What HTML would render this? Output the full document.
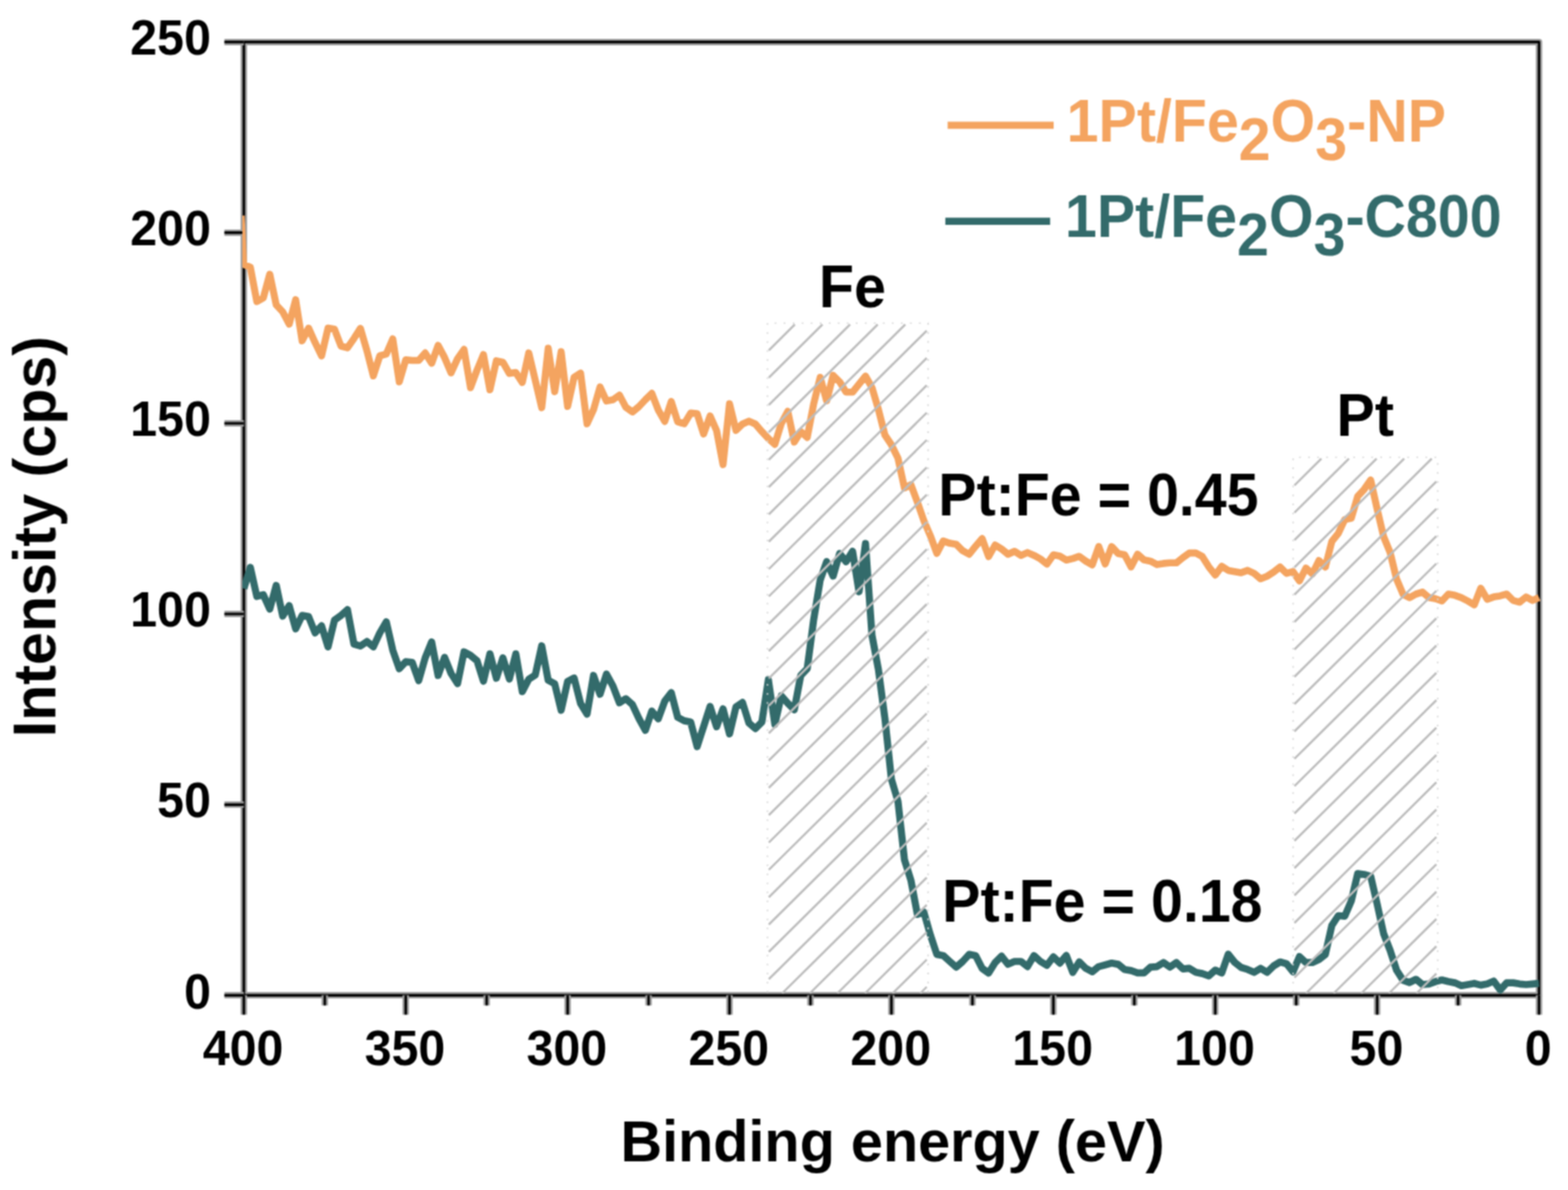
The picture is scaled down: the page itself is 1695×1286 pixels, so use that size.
<!DOCTYPE html>
<html lang="en"><head><meta charset="utf-8"><title>XPS survey spectra</title>
<style>html,body{margin:0;padding:0;background:#fff}body{width:1695px;height:1286px;overflow:hidden}svg{display:block}</style>
</head><body>
<svg width="1695" height="1286" viewBox="0 0 1695 1286" role="img" aria-label="XPS survey spectra of 1Pt/Fe2O3-NP and 1Pt/Fe2O3-C800">
<defs><clipPath id="plot"><rect x="262.0" y="0" width="1403.9" height="1286"/></clipPath>
<filter id="soft" filterUnits="userSpaceOnUse" x="0" y="0" width="1695" height="1286" color-interpolation-filters="sRGB"><feConvolveMatrix order="3" kernelMatrix="1 2 1 2 4 2 1 2 1" divisor="16" edgeMode="duplicate" preserveAlpha="false"/></filter>
</defs>
<rect width="1695" height="1286" fill="#fff"/>
<g filter="url(#soft)">
<rect x="263.6" y="45.4" width="1400.1" height="1030.2" fill="none" stroke="#9c9c9c" stroke-width="7.0" stroke-linejoin="round"/>
<rect x="263.6" y="45.4" width="1400.1" height="1030.2" fill="none" stroke="#000" stroke-width="2.6" stroke-linejoin="round"/>
<path d="M242.6,1075.6H263.6M242.6,869.6H263.6M242.6,663.5H263.6M242.6,457.5H263.6M242.6,251.4H263.6M242.6,45.4H263.6M1663.7,1075.6V1096.6M1576.2,1075.6V1086.6M1488.7,1075.6V1096.6M1401.2,1075.6V1086.6M1313.7,1075.6V1096.6M1226.2,1075.6V1086.6M1138.7,1075.6V1096.6M1051.2,1075.6V1086.6M963.6,1075.6V1096.6M876.1,1075.6V1086.6M788.6,1075.6V1096.6M701.1,1075.6V1086.6M613.6,1075.6V1096.6M526.1,1075.6V1086.6M438.6,1075.6V1096.6M351.1,1075.6V1086.6M263.6,1075.6V1096.6" stroke="#9c9c9c" stroke-width="7.0" fill="none"/>
<path d="M242.6,1075.6H263.6M242.6,869.6H263.6M242.6,663.5H263.6M242.6,457.5H263.6M242.6,251.4H263.6M242.6,45.4H263.6M1663.7,1075.6V1096.6M1576.2,1075.6V1086.6M1488.7,1075.6V1096.6M1401.2,1075.6V1086.6M1313.7,1075.6V1096.6M1226.2,1075.6V1086.6M1138.7,1075.6V1096.6M1051.2,1075.6V1086.6M963.6,1075.6V1096.6M876.1,1075.6V1086.6M788.6,1075.6V1096.6M701.1,1075.6V1086.6M613.6,1075.6V1096.6M526.1,1075.6V1086.6M438.6,1075.6V1096.6M351.1,1075.6V1086.6M263.6,1075.6V1096.6" stroke="#000" stroke-width="2.6" fill="none"/>
<g clip-path="url(#plot)" fill="none" stroke-linejoin="round" stroke-linecap="butt">
<polyline points="260.7,233.0 263.3,285.8 270.6,288.8 277.6,325.8 284.6,322.0 291.6,296.3 298.6,329.5 305.6,337.0 312.6,350.2 319.6,323.9 326.6,368.3 333.6,354.6 340.6,370.2 347.6,384.6 354.6,354.6 361.6,355.8 368.6,374.0 375.6,375.9 382.6,365.8 389.6,354.9 396.6,378.9 403.6,406.2 410.6,384.5 417.6,382.6 424.6,366.3 431.6,412.7 438.6,388.9 445.6,389.5 452.6,389.5 459.6,381.4 466.6,392.6 473.6,373.2 480.6,386.4 487.6,402.9 494.6,387.6 501.6,377.6 508.6,418.9 515.6,400.1 522.6,383.2 529.6,421.2 536.6,389.9 543.6,391.4 550.6,403.6 557.6,402.6 564.6,413.3 571.6,381.4 578.6,410.8 585.6,440.6 592.6,376.3 599.6,423.3 606.6,380.1 613.6,439.2 620.6,407.6 627.6,403.2 634.6,457.9 641.6,442.7 648.6,418.2 655.6,433.3 662.6,432.0 669.6,427.0 676.6,440.2 683.6,445.2 690.6,439.5 697.6,432.0 704.6,425.1 711.6,443.2 718.6,455.4 725.6,433.9 732.6,455.8 739.6,457.9 746.6,446.4 753.6,447.0 760.6,469.0 767.6,449.5 774.6,465.2 781.6,502.1 788.6,436.3 795.6,465.1 802.6,458.3 809.6,455.1 816.6,458.3 823.6,466.4 830.6,473.9 837.6,480.2 844.6,457.6 851.6,444.5 858.6,477.7 865.6,466.4 872.6,472.7 879.6,436.3 886.6,407.8 893.6,433.2 900.6,405.7 907.6,412.6 914.6,423.8 921.6,423.8 928.6,415.1 935.6,406.5 942.6,418.8 949.6,442.6 956.6,470.2 963.6,480.7 970.7,495.1 977.7,527.4 984.7,523.8 991.7,542.6 998.7,562.7 1005.7,578.9 1012.7,598.0 1019.7,584.6 1026.7,587.1 1033.7,588.3 1040.7,595.2 1047.7,599.0 1054.7,590.2 1061.7,582.1 1068.7,601.5 1075.7,589.0 1082.7,593.3 1089.7,599.0 1096.7,595.8 1103.7,600.2 1110.7,597.1 1117.7,600.2 1124.7,604.0 1131.7,609.6 1138.7,599.6 1145.7,600.9 1152.7,605.2 1159.7,603.6 1166.7,601.2 1173.7,606.4 1180.7,610.4 1187.7,590.7 1194.7,609.5 1201.7,590.7 1208.7,598.2 1215.7,599.5 1222.7,612.6 1229.7,598.9 1236.7,605.1 1243.7,606.4 1250.7,610.1 1257.7,608.9 1264.7,608.3 1271.7,608.3 1278.7,602.6 1285.7,597.6 1292.7,597.6 1299.7,601.4 1306.7,612.6 1313.7,621.4 1320.7,612.0 1327.7,616.4 1334.7,617.7 1341.7,618.9 1348.7,616.4 1355.7,619.6 1362.7,625.5 1369.7,622.7 1376.7,618.3 1383.7,612.7 1390.7,619.6 1397.7,617.7 1404.7,627.7 1411.7,613.9 1418.7,620.2 1425.7,605.8 1432.7,612.7 1439.7,585.1 1446.7,576.4 1453.7,561.4 1460.7,560.1 1467.7,536.3 1474.7,528.8 1481.7,518.8 1488.7,550.1 1495.7,580.0 1502.7,597.0 1509.7,625.8 1516.7,642.3 1523.7,645.8 1530.7,642.0 1537.7,639.8 1544.7,645.8 1551.7,647.0 1558.7,649.5 1565.7,642.0 1572.7,643.3 1579.7,645.8 1586.7,649.5 1593.7,653.6 1600.7,635.7 1607.7,647.6 1614.7,645.1 1621.7,643.9 1628.7,642.0 1635.7,648.9 1642.7,650.8 1649.7,645.1 1656.7,648.9 1663.7,645.8" stroke="#f4a460" stroke-width="7.6"/>
<polyline points="263.6,636.0 270.6,613.2 277.6,644.5 284.6,642.6 291.6,658.3 298.6,632.6 305.6,665.8 312.6,654.5 319.6,679.5 326.6,665.1 333.6,666.4 340.6,683.9 347.6,676.4 354.6,699.0 361.6,670.2 368.6,665.1 375.6,658.9 382.6,696.0 389.6,698.2 396.6,693.3 403.6,699.0 410.6,683.9 417.6,672.0 424.6,702.7 431.6,722.7 438.6,715.2 445.6,715.9 452.6,735.5 459.6,711.0 466.6,693.7 473.6,729.9 480.6,710.4 487.6,727.7 494.6,738.7 501.6,704.5 508.6,708.2 515.6,713.9 522.6,736.2 529.6,706.6 536.6,732.9 543.6,711.0 550.6,733.7 557.6,706.6 564.6,747.4 571.6,733.9 578.6,729.5 585.6,697.9 592.6,735.2 599.6,738.9 606.6,767.5 613.6,736.4 620.6,732.7 627.6,760.2 634.6,771.7 641.6,730.0 648.6,750.2 655.6,728.5 662.6,741.4 669.6,759.5 676.6,755.1 683.6,761.4 690.6,776.4 697.6,789.2 704.6,768.5 711.6,776.7 718.6,757.6 725.6,748.5 732.6,775.2 739.6,778.9 746.6,780.2 753.6,806.7 760.6,785.2 767.6,763.5 774.6,785.4 781.6,766.0 788.6,793.0 795.6,763.9 802.6,759.1 809.6,781.4 816.6,787.4 823.6,780.2 830.6,734.5 837.6,782.7 844.6,752.0 851.6,760.1 858.6,767.0 865.6,730.0 872.6,722.6 879.6,669.6 886.6,627.0 893.6,607.0 900.6,622.6 907.6,598.2 914.6,607.0 921.6,595.7 928.6,639.5 935.6,587.3 942.6,686.5 949.6,723.8 956.6,776.4 963.6,842.0 970.7,866.0 977.7,929.0 984.7,951.3 991.7,988.2 998.7,985.7 1005.7,1010.2 1012.7,1031.4 1019.7,1032.7 1026.7,1039.0 1033.7,1045.2 1040.7,1039.0 1047.7,1031.4 1054.7,1032.7 1061.7,1046.5 1068.7,1051.5 1075.7,1040.2 1082.7,1033.3 1089.7,1042.1 1096.7,1039.0 1103.7,1039.0 1110.7,1044.6 1117.7,1032.7 1124.7,1039.0 1131.7,1043.3 1138.7,1034.0 1145.7,1040.8 1152.7,1032.6 1159.7,1050.8 1166.7,1039.5 1173.7,1046.4 1180.7,1050.2 1187.7,1044.6 1194.7,1042.7 1201.7,1040.8 1208.7,1042.1 1215.7,1047.7 1222.7,1048.9 1229.7,1051.4 1236.7,1051.4 1243.7,1045.2 1250.7,1044.6 1257.7,1040.2 1264.7,1045.2 1271.7,1040.2 1278.7,1047.1 1285.7,1046.4 1292.7,1050.8 1299.7,1052.1 1306.7,1054.6 1313.7,1048.3 1320.7,1051.4 1327.7,1031.2 1334.7,1040.0 1341.7,1045.5 1348.7,1047.7 1355.7,1050.8 1362.7,1046.5 1369.7,1050.8 1376.7,1043.9 1383.7,1039.6 1390.7,1041.4 1397.7,1050.2 1404.7,1033.7 1411.7,1040.2 1418.7,1040.2 1425.7,1037.1 1432.7,1031.4 1439.7,1000.1 1446.7,989.5 1453.7,990.1 1460.7,973.8 1467.7,944.0 1474.7,945.0 1481.7,946.9 1488.7,977.0 1495.7,1009.0 1502.7,1027.0 1509.7,1048.5 1516.7,1059.3 1523.7,1061.8 1530.7,1058.3 1537.7,1064.0 1544.7,1063.3 1551.7,1060.8 1558.7,1059.0 1565.7,1060.8 1572.7,1062.1 1579.7,1065.2 1586.7,1064.0 1593.7,1062.7 1600.7,1064.6 1607.7,1063.3 1614.7,1060.3 1621.7,1069.8 1628.7,1062.1 1635.7,1062.1 1642.7,1063.3 1649.7,1064.0 1656.7,1063.3 1663.7,1062.7" stroke="#336b6b" stroke-width="7.7"/>
</g>
<path d="M831.1,378.6L859.2,350.7M831.1,408.1L889.1,350.7M831.1,437.7L918.9,350.7M831.1,467.2L948.8,350.7M831.1,496.8L978.6,350.7M831.1,526.3L1001.8,357.3M831.1,555.9L1001.8,386.9M831.1,585.4L1001.8,416.4M831.1,615.0L1001.8,446.0M831.1,644.5L1001.8,475.5M831.1,674.1L1001.8,505.1M831.1,703.6L1001.8,534.6M831.1,733.2L1001.8,564.2M831.1,762.7L1001.8,593.7M831.1,792.3L1001.8,623.3M831.1,821.8L1001.8,652.8M831.1,851.4L1001.8,682.4M831.1,880.9L1001.8,711.9M831.1,910.5L1001.8,741.5M831.1,940.0L1001.8,771.0M831.1,969.6L1001.8,800.6M831.1,999.1L1001.8,830.1M831.1,1028.7L1001.8,859.7M831.1,1058.2L1001.8,889.2M845.5,1073.5L1001.8,918.8M875.4,1073.5L1001.8,948.3M905.2,1073.5L1001.8,977.9M935.1,1073.5L1001.8,1007.4M964.9,1073.5L1001.8,1037.0M994.8,1073.5L1001.8,1066.5" stroke="#bcbcbc" stroke-width="2.4" fill="none"/>
<path d="M829.6,1072.6V349.2H1003.3V1072.6" fill="none" stroke="#d8d8d8" stroke-width="1.6" stroke-dasharray="1.8 7.95"/>
<path d="M1399.3,524.5L1428.4,495.7M1399.3,554.0L1458.2,495.7M1399.3,583.6L1488.1,495.7M1399.3,613.1L1517.9,495.7M1399.3,642.7L1547.7,495.7M1399.3,672.2L1552.7,520.3M1399.3,701.8L1552.7,549.9M1399.3,731.3L1552.7,579.4M1399.3,760.9L1552.7,609.0M1399.3,790.4L1552.7,638.5M1399.3,820.0L1552.7,668.1M1399.3,849.5L1552.7,697.6M1399.3,879.1L1552.7,727.2M1399.3,908.6L1552.7,756.7M1399.3,938.2L1552.7,786.3M1399.3,967.7L1552.7,815.8M1399.3,997.3L1552.7,845.4M1399.3,1026.8L1552.7,874.9M1399.3,1056.4L1552.7,904.5M1411.8,1073.5L1552.7,934.0M1441.7,1073.5L1552.7,963.6M1471.5,1073.5L1552.7,993.1M1501.4,1073.5L1552.7,1022.7M1531.2,1073.5L1552.7,1052.2" stroke="#bcbcbc" stroke-width="2.4" fill="none"/>
<path d="M1397.8,1072.6V494.2H1554.2V1072.6" fill="none" stroke="#d8d8d8" stroke-width="1.6" stroke-dasharray="1.8 7.95"/>
<text font-family="'Liberation Sans', Arial, Helvetica, sans-serif" font-weight="bold" font-size="52.3" transform="translate(228.0,1089.5) scale(1,1.025)" text-anchor="end" fill="#000">0</text>
<text font-family="'Liberation Sans', Arial, Helvetica, sans-serif" font-weight="bold" font-size="52.3" transform="translate(228.0,883.5) scale(1,1.025)" text-anchor="end" fill="#000">50</text>
<text font-family="'Liberation Sans', Arial, Helvetica, sans-serif" font-weight="bold" font-size="52.3" transform="translate(228.0,677.4) scale(1,1.025)" text-anchor="end" fill="#000">100</text>
<text font-family="'Liberation Sans', Arial, Helvetica, sans-serif" font-weight="bold" font-size="52.3" transform="translate(228.0,471.4) scale(1,1.025)" text-anchor="end" fill="#000">150</text>
<text font-family="'Liberation Sans', Arial, Helvetica, sans-serif" font-weight="bold" font-size="52.3" transform="translate(228.0,265.3) scale(1,1.025)" text-anchor="end" fill="#000">200</text>
<text font-family="'Liberation Sans', Arial, Helvetica, sans-serif" font-weight="bold" font-size="52.3" transform="translate(228.0,59.3) scale(1,1.025)" text-anchor="end" fill="#000">250</text>
<text font-family="'Liberation Sans', Arial, Helvetica, sans-serif" font-weight="bold" font-size="52.3" transform="translate(1662.9,1151.0) scale(1,1.025)" text-anchor="middle" fill="#000">0</text>
<text font-family="'Liberation Sans', Arial, Helvetica, sans-serif" font-weight="bold" font-size="52.3" transform="translate(1487.9,1151.0) scale(1,1.025)" text-anchor="middle" fill="#000">50</text>
<text font-family="'Liberation Sans', Arial, Helvetica, sans-serif" font-weight="bold" font-size="52.3" transform="translate(1312.9,1151.0) scale(1,1.025)" text-anchor="middle" fill="#000">100</text>
<text font-family="'Liberation Sans', Arial, Helvetica, sans-serif" font-weight="bold" font-size="52.3" transform="translate(1137.9,1151.0) scale(1,1.025)" text-anchor="middle" fill="#000">150</text>
<text font-family="'Liberation Sans', Arial, Helvetica, sans-serif" font-weight="bold" font-size="52.3" transform="translate(962.9,1151.0) scale(1,1.025)" text-anchor="middle" fill="#000">200</text>
<text font-family="'Liberation Sans', Arial, Helvetica, sans-serif" font-weight="bold" font-size="52.3" transform="translate(787.8,1151.0) scale(1,1.025)" text-anchor="middle" fill="#000">250</text>
<text font-family="'Liberation Sans', Arial, Helvetica, sans-serif" font-weight="bold" font-size="52.3" transform="translate(612.8,1151.0) scale(1,1.025)" text-anchor="middle" fill="#000">300</text>
<text font-family="'Liberation Sans', Arial, Helvetica, sans-serif" font-weight="bold" font-size="52.3" transform="translate(437.8,1151.0) scale(1,1.025)" text-anchor="middle" fill="#000">350</text>
<text font-family="'Liberation Sans', Arial, Helvetica, sans-serif" font-weight="bold" font-size="52.3" transform="translate(262.8,1151.0) scale(1,1.025)" text-anchor="middle" fill="#000">400</text>
<text font-family="'Liberation Sans', Arial, Helvetica, sans-serif" font-weight="bold" font-size="62.3" transform="translate(964.8,1254.6) scale(1,1.02)" text-anchor="middle" fill="#000">Binding energy (eV)</text>
<text font-family="'Liberation Sans', Arial, Helvetica, sans-serif" font-weight="bold" font-size="64" transform="translate(60.0,580.0) rotate(-90) scale(1,1.02)" text-anchor="middle" fill="#000">Intensity (cps)</text>
<text font-family="'Liberation Sans', Arial, Helvetica, sans-serif" font-weight="bold" font-size="62" transform="translate(921.5,331.8) scale(1,1.035)" text-anchor="middle" fill="#000">Fe</text>
<text font-family="'Liberation Sans', Arial, Helvetica, sans-serif" font-weight="bold" font-size="62" transform="translate(1475.8,471.0) scale(1,1.035)" text-anchor="middle" fill="#000">Pt</text>
<text font-family="'Liberation Sans', Arial, Helvetica, sans-serif" font-weight="bold" font-size="62" transform="translate(1014.3,557.1) scale(1,1.035)" text-anchor="start" fill="#000">Pt:Fe = 0.45</text>
<text font-family="'Liberation Sans', Arial, Helvetica, sans-serif" font-weight="bold" font-size="62" transform="translate(1018.6,995.8) scale(1,1.035)" text-anchor="start" fill="#000">Pt:Fe = 0.18</text>
<path d="M1024.4,135.4H1139.0" stroke="#f4a460" stroke-width="7.6" fill="none"/>
<path d="M1021.9,239.1H1135.2" stroke="#336b6b" stroke-width="7.6" fill="none"/>
<text font-family="'Liberation Sans', Arial, Helvetica, sans-serif" font-weight="bold" font-size="62" transform="translate(1153.1,152.6) scale(1,1.035)" text-anchor="start" fill="#f4a460">1Pt/Fe<tspan dy="19.5">2</tspan><tspan dy="-19.5">O</tspan><tspan dy="19.5">3</tspan><tspan dy="-19.5">-NP</tspan></text>
<text font-family="'Liberation Sans', Arial, Helvetica, sans-serif" font-weight="bold" font-size="62" transform="translate(1151.2,256.3) scale(1,1.035)" text-anchor="start" fill="#336b6b">1Pt/Fe<tspan dy="19.5">2</tspan><tspan dy="-19.5">O</tspan><tspan dy="19.5">3</tspan><tspan dy="-19.5">-C800</tspan></text>
</g>
</svg>
</body></html>
